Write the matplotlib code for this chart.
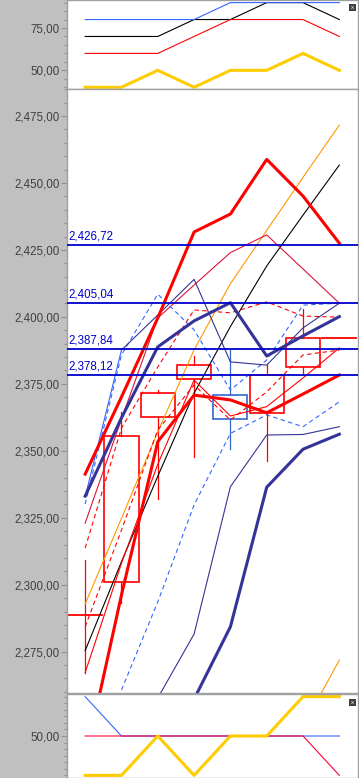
import numpy as np
import matplotlib
matplotlib.use("Agg")
import matplotlib.pyplot as plt
from matplotlib.patches import Rectangle
from matplotlib.ticker import MultipleLocator, FixedLocator, FuncFormatter

plt.rcParams['font.family'] = ['Liberation Sans', 'DejaVu Sans']

nan = np.nan
x = np.arange(8)

# top panel
top_black = [70, 70, 70, 80, 80, 90, 90, 80]
top_red = [60, 60, 60, 70, 80, 80, 80, 70]
top_blue = [80, 80, 80, 80, 90, 90, 90, 90]
top_yellow = [40, 40, 50, 40, 50, 50, 60, 50]

# candles
c_open = [2288.7, 2301.0, 2362.6, 2376.7, 2370.7, 2364.0, 2381.2, 2392.0]
c_high = [2309.2, 2364.6, 2372.6, 2385.4, 2387.6, 2382.4, 2402.9, 2392.0]
c_low = [2267.0, 2293.2, 2332.1, 2347.6, 2350.6, 2346.3, 2378.7, 2392.0]
c_close = [2288.7, 2355.5, 2371.7, 2381.9, 2361.8, 2378.4, 2392.0, 2392.0]

# main panel lines
red_thick_up = [2341.3, 2370.1, 2399.6, 2431.7, 2438.4, 2458.8, 2445.1, 2427.5]
red_thick_lo = [2234.5, 2296.2, 2353.4, 2370.8, 2369.0, 2364.2, 2371.2, 2378.3]
navy_thick_up = [2333.1, 2362.3, 2388.8, 2398.5, 2405.3, 2385.4, 2392.9, 2400.1]
navy_thick_lo = [nan, nan, 2230.8, 2257.3, 2284.3, 2336.4, 2350.6, 2356.2]
navy_thin_up = [nan, 2387.6, 2400.7, 2414.0, 2383.2, 2382.0, 2395.9, 2405.1]
navy_thin_lo = [nan, nan, 2257.7, 2281.6, 2336.6, 2355.9, 2356.1, 2359.0]
blue_thin = [2332.8, 2387.6, nan, nan, nan, nan, nan, nan]
blue_dash_up = [2330.1, 2385.8, 2408.5, 2395.1, 2372.7, 2383.9, 2404.4, 2405.1]
blue_dash_lo = [nan, 2260.7, 2293.6, 2329.8, 2356.5, 2363.4, 2359.0, 2368.3]
orange_up = [2292.8, 2324.8, 2357.1, 2387.7, 2412.4, 2432.3, 2452.1, 2471.6]
orange_lo = [nan, nan, nan, nan, nan, nan, 2247.0, 2271.9]
black_line = [2275.4, 2308.6, 2340.5, 2371.5, 2396.4, 2419.0, 2438.0, 2456.7]
crimson_line = [2323.0, 2361.9, 2399.6, 2411.9, 2424.0, 2430.6, 2417.9, 2405.1]
red_dash_up = [2313.7, 2358.5, 2381.3, 2402.6, 2401.5, 2405.6, 2400.3, 2399.9]
red_dash_lo = [2284.3, 2320.4, 2357.8, 2374.6, 2361.5, 2372.0, 2385.8, 2387.6]
red_thin = [2267.2, 2308.0, 2345.0, 2376.4, 2363.0, 2366.5, 2377.2, 2388.4]
levels = [2426.72, 2405.04, 2387.84, 2378.12]

# bottom panel
bot_blue = [80, 50, 50, 50, 50, 50, 50, 50]
bot_red = [50, 50, 50, 50, 50, 50, 50, 20]
bot_yellow = [20, 20, 50, 20, 50, 50, 80, 80]

W, H = 359.0, 778.0
fig = plt.figure(figsize=(W / 100, H / 100), dpi=100)
fig.patches.append(Rectangle((0, 0), 66.5 / W, 1, transform=fig.transFigure,
                             facecolor='#C0C0C0', edgecolor='none', zorder=-5))


def panel(top, bottom):
    return fig.add_axes([67 / W, 1 - bottom / H, 290.5 / W, (bottom - top) / H])


fmt = FuncFormatter(lambda v, p: f"{v:,.2f}".replace('.', ','))


def style(a, ylim, majors, minor):
    a.set_xlim(-0.5, 7.5)
    a.set_ylim(*ylim)
    a.set_xticks([])
    a.yaxis.set_major_locator(majors)
    a.yaxis.set_minor_locator(MultipleLocator(minor))
    a.yaxis.set_major_formatter(fmt)
    a.tick_params(axis='y', which='major', length=4.3, width=0.8, color='#909090',
                  labelcolor='#404040', labelsize=8.3, pad=0.8)
    a.tick_params(axis='y', which='minor', length=2, width=0.8, color='#909090')
    for s in a.spines.values():
        s.set_color('#A0A0A0')
        s.set_linewidth(1.0)


ax_top = panel(0, 89)
ax = panel(89, 693)
ax_bot = panel(694, 778)

style(ax_top, (38.97, 91.54), MultipleLocator(25), 5)
style(ax, (2259.58, 2485.08), MultipleLocator(25), 5)
style(ax_bot, (18.0, 82.0), FixedLocator([50]), 5)

thin = 0.8
thick = 2.2
dash = (0, (4, 3))

# top panel
ax_top.plot(x, top_black, color='black', lw=thin)
ax_top.plot(x, top_red, color='#FF0000', lw=thin)
ax_top.plot(x, top_blue, color='#3366FF', lw=thin)
ax_top.plot(x, top_yellow, color='#FFCC00', lw=thick)

# candles
w = 0.94
for i in range(len(x)):
    o, h, l, c = c_open[i], c_high[i], c_low[i], c_close[i]
    col = '#3366CC' if c < o else '#FF0000'
    hi, lo = max(o, c), min(o, c)
    ax.plot([i, i], [hi, h], color=col, lw=0.9, zorder=2)
    ax.plot([i, i], [l, lo], color=col, lw=0.9, zorder=2)
    if hi - lo > 0.01:
        ax.add_patch(Rectangle((i - w / 2, lo), w, hi - lo, fill=False,
                               edgecolor=col, lw=1.2, zorder=2))
    else:
        ax.plot([i - w / 2, i + w / 2], [hi, hi], color=col, lw=1.3, zorder=2)

# indicator lines
ax.plot(x, orange_up, color='#FF9900', lw=thin, zorder=3)
ax.plot(x, orange_lo, color='#FF9900', lw=thin, zorder=3)
ax.plot(x, black_line, color='black', lw=thin, zorder=3)
ax.plot(x, red_thin, color='#FF0000', lw=thin, zorder=3)
ax.plot(x, red_dash_lo, color='#FF0000', lw=thin, ls=dash, zorder=3)
ax.plot(x, red_dash_up, color='#FF0000', lw=thin, ls=dash, zorder=3)
ax.plot(x, crimson_line, color='#DC143C', lw=thin, zorder=3)
ax.plot(x, blue_dash_up, color='#3366FF', lw=thin, ls=dash, zorder=3)
ax.plot(x, blue_dash_lo, color='#3366FF', lw=thin, ls=dash, zorder=3)
ax.plot(x, navy_thin_up, color='#333399', lw=thin, zorder=3)
ax.plot(x, navy_thin_lo, color='#333399', lw=thin, zorder=3)
ax.plot(x, blue_thin, color='#3366FF', lw=thin, zorder=3)
ax.plot(x, navy_thick_up, color='#333399', lw=thick, zorder=4)
ax.plot(x, navy_thick_lo, color='#333399', lw=thick, zorder=4)
ax.plot(x, red_thick_up, color='#FF0000', lw=thick, zorder=4)
ax.plot(x, red_thick_lo, color='#FF0000', lw=thick, zorder=4)

for lv in levels:
    ax.axhline(lv, color='#0000CC', lw=1.3, zorder=5)
    ax.annotate(f"{lv:,.2f}".replace('.', ','), xy=(0, lv),
                xycoords=('axes fraction', 'data'), xytext=(1.2, 1.8),
                textcoords='offset points', color='#0000CC', fontsize=8.3,
                va='bottom', ha='left', zorder=6)

# bottom panel
ax_bot.plot(x, bot_blue, color='#3366FF', lw=thin)
ax_bot.plot(x, bot_red, color='#FF0033', lw=thin)
ax_bot.plot(x, bot_yellow, color='#FFCC00', lw=thick)

# small panel buttons
for yy in (4, 699):
    fig.patches.append(Rectangle((348.5 / W, 1 - (yy + 7) / H), 7.5 / W, 7 / H,
                                 transform=fig.transFigure, facecolor='#404040',
                                 edgecolor='none', zorder=10))
    fig.text(352.2 / W, 1 - (yy + 3.6) / H, 'x', color='white', fontsize=4.5,
             ha='center', va='center', zorder=11)

fig.savefig('out.png', dpi=100)
